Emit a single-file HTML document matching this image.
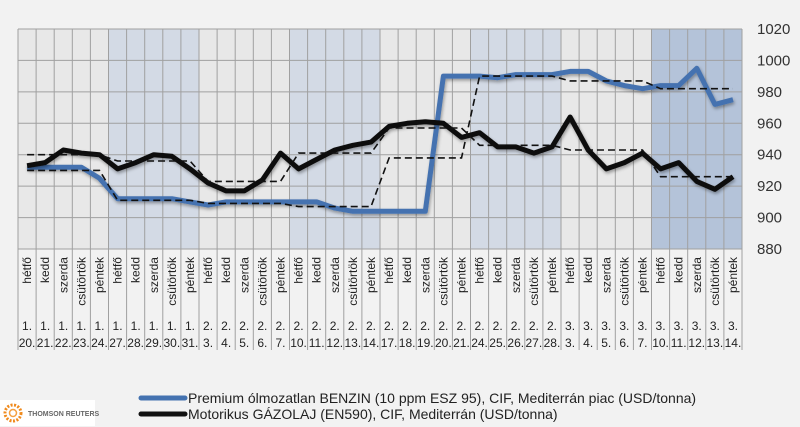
<!DOCTYPE html>
<html><head><meta charset="utf-8"><style>
body{margin:0;background:#f2f2f2;font-family:"Liberation Sans",sans-serif;}
svg{display:block}
</style></head><body>
<svg width="800" height="427" viewBox="0 0 800 427" xmlns="http://www.w3.org/2000/svg">
<defs><filter id="sh" x="-5%" y="-20%" width="110%" height="140%"><feDropShadow dx="1" dy="2" stdDeviation="1.5" flood-color="#000" flood-opacity="0.35"/></filter></defs>
<rect width="800" height="427" fill="#f2f2f2"/>
<g id="bands"></g><g id="grid"></g><g id="xlabels"></g><g id="ylabels"></g><g id="series"></g>
<g>
<line x1="141" y1="398" x2="185" y2="398" stroke="#4472b0" stroke-width="5" stroke-linecap="round"/>
<text x="188" y="403" font-size="14" fill="#222">Premium ólmozatlan BENZIN (10 ppm ESZ 95), CIF, Mediterrán piac (USD/tonna)</text>
<line x1="141" y1="414" x2="185" y2="414" stroke="#111" stroke-width="5" stroke-linecap="round"/>
<text x="188" y="419" font-size="14" fill="#222">Motorikus GÁZOLAJ (EN590), CIF, Mediterrán (USD/tonna)</text>
</g>
<g>
<rect x="0" y="400" width="95" height="26" fill="#fff"/>
<circle cx="13" cy="413" r="8" fill="none" stroke="#f08a1c" stroke-width="3" stroke-dasharray="2 1.5"/>
<circle cx="13" cy="413" r="3.5" fill="none" stroke="#f5a040" stroke-width="1.5"/>
<text x="28" y="416" font-size="7" font-weight="bold" fill="#666">THOMSON REUTERS</text>
</g>
</svg>
<script>
const days=["hétfő","kedd","szerda","csütörtök","péntek"];
const dates=["1.|20.","1.|21.","1.|22.","1.|23.","1.|24.","1.|27.","1.|28.","1.|29.","1.|30.","1.|31.","2.|3.","2.|4.","2.|5.","2.|6.","2.|7.","2.|10.","2.|11.","2.|12.","2.|13.","2.|14.","2.|17.","2.|18.","2.|19.","2.|20.","2.|21.","2.|24.","2.|25.","2.|26.","2.|27.","2.|28.","3.|3.","3.|4.","3.|5.","3.|6.","3.|7.","3.|10.","3.|11.","3.|12.","3.|13.","3.|14."];
const yTicks=[880,900,920,940,960,980,1000,1020];
const benzin=[932,932,932,932,925,912,912,912,912,910,908,910,910,910,910,910,910,906,904,904,904,904,904,990,990,990,989,991,991,991,993,993,987,984,982,984,984,995,972,975];
const gazolaj=[933,935,943,941,940,931,935,940,939,931,922,917,917,924,941,931,937,943,946,948,958,960,961,960,951,954,945,945,941,945,964,943,931,935,941,931,935,923,918,926];
const benzinWeekAvg=[930,911,909,907,938,990,987,982];
const gazolajWeekAvg=[940,936,923,941,957,946,943,926];

const NS="http://www.w3.org/2000/svg";
const X0=18,X1=742,Y0=29,Y1=249,N=dates.length,CW=(X1-X0)/N;
const xL=i=>X0+i*CW, xC=i=>X0+(i+0.5)*CW;
const yS=v=>Y1-(v-880)/(1020-880)*(Y1-Y0);
function mk(tag,attrs,parent){const e=document.createElementNS(NS,tag);for(const k in attrs)e.setAttribute(k,attrs[k]);parent.appendChild(e);return e;}
const bands=document.getElementById('bands'),grid=document.getElementById('grid'),xl=document.getElementById('xlabels'),yl=document.getElementById('ylabels'),ser=document.getElementById('series');
for(let i=0;i<N;i++){
  const w=Math.floor(i/5);
  const fill=w===7?"#b4c3d9":(w%2?"#d3dae5":"#e8e8e8");
  const r=mk('rect',{x:xL(i),y:Y0,width:CW,height:Y1-Y0,fill:fill},bands);
  
  
}
for(let i=0;i<=N;i++){
  const l=mk('line',{x1:xL(i),x2:xL(i),y1:Y0,y2:350,stroke:"#a0a0a0","stroke-width":1},grid);
  
  
}
yTicks.forEach(v=>{
  const l=mk('line',{x1:X0,x2:X1,y1:yS(v),y2:yS(v),stroke:"#a0a0a0","stroke-width":1},grid);
  
  
  const t=mk('text',{x:757,y:yS(v)+5,"font-size":15,fill:"#333"},yl);
  t.textContent=v;
  
  
});
for(let i=0;i<N;i++){
  const t=mk('text',{x:0,y:0,"font-size":12,fill:"#222","text-anchor":"end",transform:`translate(${xC(i)+4},257) rotate(-90)`},xl);
  t.textContent=days[i%5];
  
  
  const p=dates[i].split('|');
  const a=mk('text',{x:xC(i),y:330,"font-size":12,fill:"#222","text-anchor":"middle"},xl);
  a.textContent=p[0];
  
  
  const b=mk('text',{x:xC(i),y:347,"font-size":12,fill:"#222","text-anchor":"middle"},xl);
  b.textContent=p[1];
  
  
}
function poly(vals){return vals.map((v,i)=>xC(i).toFixed(1)+","+yS(v).toFixed(1)).join(" ");}
function avgPts(avg){const pts=[];avg.forEach((v,w)=>{pts.push(xC(w*5).toFixed(1)+","+yS(v).toFixed(1));pts.push(xC(w*5+4).toFixed(1)+","+yS(v).toFixed(1));});return pts.join(" ");}
const bl=mk('polyline',{points:poly(benzin),fill:"none",stroke:"#4472b0","stroke-width":5,"stroke-linejoin":"round",filter:"url(#sh)"},ser);


const gl=mk('polyline',{points:poly(gazolaj),fill:"none",stroke:"#111","stroke-width":5,"stroke-linejoin":"round",filter:"url(#sh)"},ser);


const ba=mk('polyline',{points:avgPts(benzinWeekAvg),fill:"none",stroke:"#111","stroke-width":1.6,"stroke-dasharray":"7 4"},ser);


const ga=mk('polyline',{points:avgPts(gazolajWeekAvg),fill:"none",stroke:"#111","stroke-width":1.6,"stroke-dasharray":"7 4"},ser);


</script>
</body></html>
